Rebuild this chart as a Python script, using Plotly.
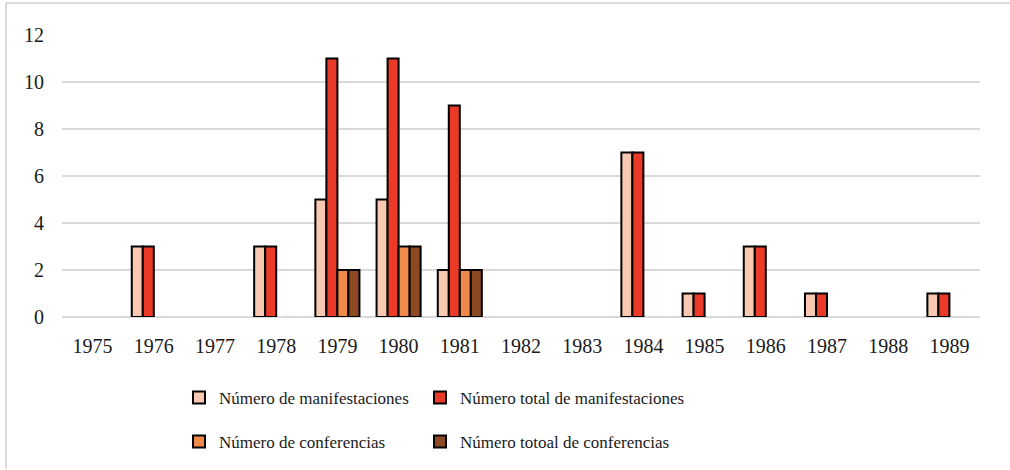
import plotly.graph_objects as go

years = [str(y) for y in range(1975, 1990)]
manifestaciones = [None, 3, None, 3, 5, 5, 2, None, None, 7, 1, 3, 1, None, 1]
total_manifestaciones = [None, 3, None, 3, 11, 11, 9, None, None, 7, 1, 3, 1, None, 1]
conferencias = [None, None, None, None, 2, 3, 2, None, None, None, None, None, None, None, None]
total_conferencias = [None, None, None, None, 2, 3, 2, None, None, None, None, None, None, None, None]

names = ["Número de manifestaciones", "Número total de manifestaciones",
         "Número de conferencias", "Número totoal de conferencias"]
colors = ["#F8C9B0", "#EC3A28", "#F08A4A", "#8B4A22"]
series = [manifestaciones, total_manifestaciones, conferencias, total_conferencias]
legends = ["legend", "legend2", "legend3", "legend4"]

fig = go.Figure()
for name, col, vals, lg in zip(names, colors, series, legends):
    fig.add_trace(go.Bar(x=years, y=vals, name=name, legend=lg,
                         marker=dict(color=col, line=dict(color="#000000", width=2))))

font_fam = "Liberation Serif"
W, H = 1010, 470
l, r, t, b = 62, 30, 35, 152
ph = H - t - b
pw = W - l - r

def py(ypix):
    return (H - b - ypix) / ph

def px(xpix):
    return (xpix - l) / pw

legend_common = dict(orientation="h", xanchor="left", yanchor="middle",
                     font=dict(family=font_fam, size=17, color="#1a1a1a"),
                     bgcolor="rgba(0,0,0,0)", itemwidth=30)

fig.update_layout(
    width=W, height=H,
    margin=dict(l=l, r=r, t=t, b=b),
    paper_bgcolor="white", plot_bgcolor="white",
    barmode="group", bargap=0.28, bargroupgap=0,
    font=dict(family=font_fam, size=20, color="#1a1a1a"),
    xaxis=dict(showgrid=False, showline=False, ticks="", tickfont=dict(family=font_fam, size=20),
               ticklabelstandoff=15),
    yaxis=dict(range=[0, 12], dtick=2, showgrid=True, gridcolor="#D9D9D9", gridwidth=1.5,
               zeroline=True, zerolinecolor="#D9D9D9", zerolinewidth=1.5,
               showline=False, ticks="", tickfont=dict(family=font_fam, size=20), ticklabelstandoff=17),
    legend=dict(x=px(179), y=py(398), **legend_common),
    legend2=dict(x=px(420), y=py(398), **legend_common),
    legend3=dict(x=px(179), y=py(442), **legend_common),
    legend4=dict(x=px(420), y=py(442), **legend_common),
    showlegend=True,
    shapes=[
        dict(type="line", xref="paper", yref="paper", x0=px(6), x1=px(1010), y0=py(3), y1=py(3),
             line=dict(color="#DADADA", width=2)),
        dict(type="line", xref="paper", yref="paper", x0=px(6), x1=px(6), y0=py(3), y1=py(470),
             line=dict(color="#DADADA", width=2)),
    ],
)

fig.write_html("out.html", config={"displayModeBar": False},
               post_script="document.body.style.margin='0';document.body.style.overflow='hidden';")
